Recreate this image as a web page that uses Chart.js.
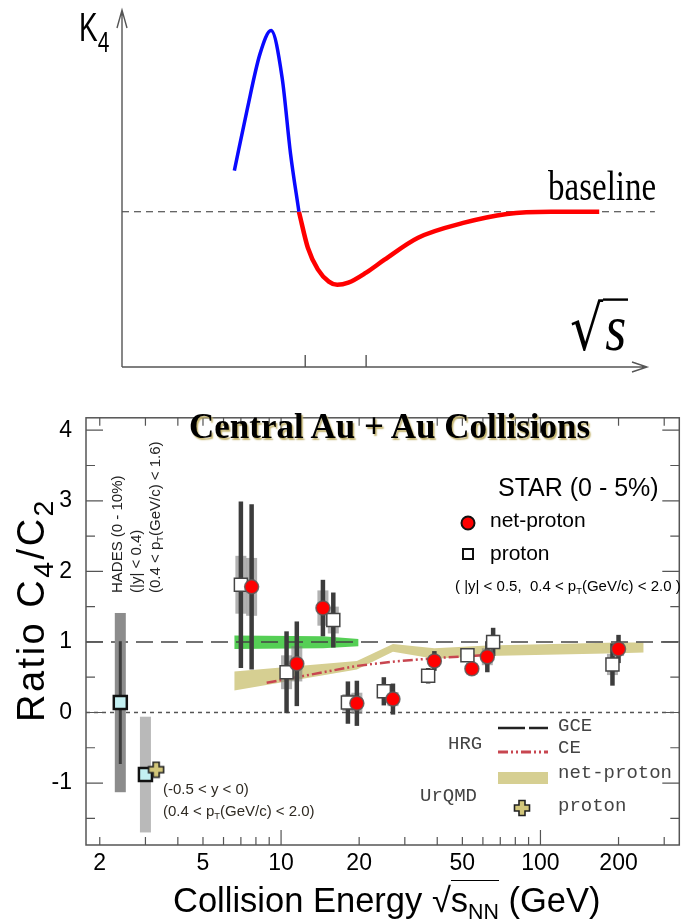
<!DOCTYPE html>
<html>
<head>
<meta charset="utf-8">
<title>K4 sketch and C4/C2 vs collision energy</title>
<script src="https://cdn.jsdelivr.net/npm/chart.js@4.4.1/dist/chart.umd.min.js"></script>
<style>
  html, body { margin: 0; padding: 0; background: #fff; }
  #page { position: relative; width: 691px; height: 924px; overflow: hidden;
          font-family: 'Liberation Sans', Arial, sans-serif; color: #000; }
  #page canvas { position: absolute; left: 0; }
  .t { position: absolute; white-space: nowrap; line-height: 1; }
  .rot { transform-origin: 0 0; transform: rotate(-90deg); }
  .sub { font-size: 0.62em; position: relative; top: 0.32em; }
  .mono { font-family: 'Liberation Mono', 'Courier New', monospace; font-size: 19px; color: #444; }
  .note { font-size: 15px; color: #2f2a22; }
</style>
</head>
<body>
<div id="page">
  <canvas id="sketch" width="691" height="390" style="top:0"></canvas>
  <canvas id="ratio" width="691" height="534" style="top:390px"></canvas>

  <!-- top sketch labels -->
  <div class="t" style="left:79px;top:18px;font-size:28px;transform:scaleY(1.42);transform-origin:0 24px">K<span style="font-size:21px;position:relative;top:8px;">4</span></div>
  <div class="t" style="left:548px;top:171px;font:33px 'Liberation Serif',serif;transform:scaleY(1.3);transform-origin:0 28px">baseline</div>
  <div class="t" style="left:570px;top:300px;font:52px 'DejaVu Serif',serif;transform:scaleY(1.2);transform-origin:0 44px">√<span style="font:italic 46px 'Liberation Serif',serif;border-top:2px solid #000;padding:0 2px;"><span style="font-size:54px">s</span></span></div>

  <!-- bottom panel labels -->
  <div class="t" style="left:189px;top:407px;font:bold 35px 'Liberation Serif',serif;text-shadow:1.5px 1.5px 1.5px #c2b26c;">Central Au + Au Collisions</div>
  <div class="t rot" style="left:107px;top:593px;font-size:15px;line-height:19px;color:#222;">HADES (0 - 10%)<br>(|y| &lt; 0.4)<br>(0.4 &lt; p<span class="sub">T</span>(GeV/c) &lt; 1.6)</div>
  <div class="t" style="left:498px;top:475px;font-size:25px;">STAR (0 - 5%)</div>
  <div class="t" style="left:490px;top:509px;font-size:21px;">net-proton</div>
  <div class="t" style="left:490px;top:542px;font-size:21px;">proton</div>
  <div class="t" style="left:455px;top:578px;font-size:15px;">( |y| &lt; 0.5,&nbsp; 0.4 &lt; p<span class="sub">T</span>(GeV/c) &lt; 2.0 )</div>
  <div class="t note" style="left:163px;top:781px;">(-0.5 &lt; y &lt; 0)</div>
  <div class="t note" style="left:163px;top:803px;">(0.4 &lt; p<span class="sub">T</span>(GeV/c) &lt; 2.0)</div>

  <div class="t mono" style="left:448px;top:735px;">HRG</div>
  <div class="t mono" style="left:558px;top:717px;">GCE</div>
  <div class="t mono" style="left:558px;top:739px;">CE</div>
  <div class="t mono" style="left:558px;top:764px;">net-proton</div>
  <div class="t mono" style="left:420px;top:787px;">UrQMD</div>
  <div class="t mono" style="left:558px;top:797px;">proton</div>

  <div class="t rot" style="left:12px;top:722px;font-size:38px;letter-spacing:2.5px;">Ratio C<span class="sub" style="font-size:0.75em">4</span>/C<span class="sub" style="font-size:0.75em">2</span></div>
  <div class="t" style="left:173px;top:883px;font-size:34.5px;">Collision Energy <span>√</span><span style="border-top:1.5px solid #000;">s<span class="sub">NN</span></span> (GeV)</div>
</div>

<script>
// ---------- top sketch: K4 vs sqrt(s) (arbitrary units) ----------
const sketchX = [2.14, 2.38, 2.63, 2.84, 3.05, 3.21, 3.37, 3.54, 3.73, 3.94, 4.10, 4.31, 4.65, 5.0, 5.64, 6.50, 7.33, 8.17, 9.09];
const sketchK4 = [1.14, 2.81, 4.39, 5.03, 3.72, 1.61, 0, -1.0, -1.6, -1.94, -2.03, -1.97, -1.69, -1.33, -0.72, -0.31, -0.06, 0, 0];
const crossIdx = 6;           // curve meets the baseline here: blue before, red after
const baselineX = [0, 10.15];
const baselineK4 = [0, 0];
const sketchTicks = [3.49, 4.65];

// ---------- bottom: C4/C2 vs collision energy ----------
const starEnergy = [7.7, 11.5, 14.5, 19.6, 27, 39, 54.4, 62.4, 200];
const netProton = [1.78, 0.69, 1.48, 0.13, 0.19, 0.73, 0.62, 0.79, 0.90];
const netProtonStat = [1.17, 0.60, 0.40, 0.32, 0.22, 0.14, 0.09, 0.22, 0.20];
const netProtonSys = [0.41, 0.25, 0.25, 0.15, 0.10, 0.08, 0.08, 0.12, 0.10];

// protons are drawn slightly shifted in energy for visibility
const protonEnergy = [7.0, 10.5, 15.9, 18.1, 24.9, 36.9, 52.3, 65.7, 189.5];
const proton = [1.81, 0.57, 1.31, 0.14, 0.30, 0.52, 0.81, 1.00, 0.68];
const protonStat = [1.18, 0.58, 0.39, 0.30, 0.20, 0.11, 0.06, 0.20, 0.30];
const protonSys = [0.41, 0.24, 0.19, 0.12, 0.10, 0.06, 0.05, 0.10, 0.15];

const hadesEnergy = [2.4];
const hadesProton = [0.14];
const hadesStat = [0.87];
const hadesSys = [1.27];

const fxtEnergy = [3.0];
const fxtProton = [-0.88];
const fxtSys = [0.82];

const urqmdProtonEnergy = [3.3];
const urqmdProton = [-0.81];

const urqmdBandX = [6.6, 19.6, 27, 39, 62.4, 200, 250];
const urqmdBandHi = [0.58, 0.73, 0.97, 0.91, 0.95, 0.99, 0.99];
const urqmdBandLo = [0.31, 0.61, 0.86, 0.76, 0.80, 0.84, 0.85];

const greenBandX = [6.6, 14.5, 19.9];
const greenBandHi = [1.09, 1.08, 1.04];
const greenBandLo = [0.90, 0.91, 0.94];

const ceX = [8.8, 19.6, 27, 39, 54.4, 62.4];
const ceY = [0.42, 0.66, 0.72, 0.77, 0.80, 0.82];

const gceX = [1.77, 343];
const gceY = [1, 1];
const zeroX = [1.77, 343];
const zeroY = [0, 0];

const xTickLabels = [2, 5, 10, 20, 50, 100, 200];
const xTickMarks = [2, 3, 4, 5, 6, 7, 8, 9, 10, 20, 30, 40, 50, 60, 70, 80, 90, 100, 200, 300];
const yTickLabels = [-1, 0, 1, 2, 3, 4];
const yTickMarks = [-1.5, -1, -0.5, 0, 0.5, 1, 1.5, 2, 2.5, 3, 3.5, 4];

const KHAKI = '#d6cf92';
const pts = (xs, ys) => xs.map((x, i) => ({ x, y: ys[i] }));

// ---------- top chart ----------
const sketchAxes = {
  id: 'sketchAxes',
  afterDraw(chart) {
    const { ctx, scales: { x, y } } = chart;
    const x0 = x.getPixelForValue(0), y0 = y.getPixelForValue(-4.31);
    const xEnd = x.getPixelForValue(10), yEnd = 10;
    ctx.save();
    ctx.strokeStyle = '#555';
    ctx.lineWidth = 1.4;
    ctx.beginPath();
    ctx.moveTo(x0, y0); ctx.lineTo(xEnd, y0);
    ctx.moveTo(xEnd - 15, y0 - 5); ctx.lineTo(xEnd, y0); ctx.lineTo(xEnd - 15, y0 + 5);
    ctx.moveTo(x0, y0); ctx.lineTo(x0, yEnd);
    ctx.moveTo(x0 - 5, yEnd + 18); ctx.lineTo(x0, yEnd); ctx.lineTo(x0 + 5, yEnd + 18);
    sketchTicks.forEach(v => {
      const px = x.getPixelForValue(v);
      ctx.moveTo(px, y0); ctx.lineTo(px, y0 - 12);
    });
    ctx.stroke();
    ctx.restore();
  }
};

new Chart(document.getElementById('sketch'), {
  type: 'line',
  data: {
    datasets: [
      {
        data: pts(sketchX.slice(0, crossIdx + 1), sketchK4.slice(0, crossIdx + 1)),
        borderColor: '#0a0aff', borderWidth: 3.5, pointRadius: 0,
        cubicInterpolationMode: 'monotone', clip: false
      },
      {
        data: pts(sketchX.slice(crossIdx), sketchK4.slice(crossIdx)),
        borderColor: '#ff0000', borderWidth: 4.5, pointRadius: 0,
        cubicInterpolationMode: 'monotone', clip: false
      },
      {
        data: pts(baselineX, baselineK4),
        borderColor: '#333', borderWidth: 1.2, borderDash: [7, 5], pointRadius: 0, clip: false
      }
    ]
  },
  options: {
    responsive: false, animation: false, events: [],
    layout: { padding: { left: 122, right: 28.25, top: 5, bottom: 23 } },
    plugins: { legend: { display: false }, tooltip: { enabled: false } },
    scales: {
      x: { type: 'linear', min: 0, max: 10.3, display: false },
      y: { type: 'linear', min: -4.31, max: 5.74, display: false }
    }
  },
  plugins: [sketchAxes]
});

// ---------- bottom chart ----------
function plusMarker() {
  const c = document.createElement('canvas');
  c.width = c.height = 18;
  const g = c.getContext('2d');
  const m = 9, w = 3, L = 7.5;
  g.beginPath();
  g.moveTo(m - w, m - L); g.lineTo(m + w, m - L); g.lineTo(m + w, m - w); g.lineTo(m + L, m - w);
  g.lineTo(m + L, m + w); g.lineTo(m + w, m + w); g.lineTo(m + w, m + L); g.lineTo(m - w, m + L);
  g.lineTo(m - w, m + w); g.lineTo(m - L, m + w); g.lineTo(m - L, m - w); g.lineTo(m - w, m - w);
  g.closePath();
  g.fillStyle = '#d2c67a';
  g.fill();
  g.lineWidth = 1.6;
  g.strokeStyle = '#222';
  g.stroke();
  return c;
}
const plus = plusMarker();

const errorGroups = [
  { xs: hadesEnergy, ys: hadesProton, sys: hadesSys, stat: hadesStat, sysColor: '#8c8c8c', sysW: 11, statW: 3 },
  { xs: fxtEnergy, ys: fxtProton, sys: fxtSys, stat: null, sysColor: '#b9b9b9', sysW: 11, statW: 3 },
  { xs: protonEnergy, ys: proton, sys: protonSys, stat: protonStat, sysColor: 'rgba(125,125,125,0.6)', sysW: 11, statW: 4.5 },
  { xs: starEnergy, ys: netProton, sys: netProtonSys, stat: netProtonStat, sysColor: 'rgba(125,125,125,0.6)', sysW: 11, statW: 4.5 }
];

const ratioDecor = {
  id: 'ratioDecor',
  beforeDatasetsDraw(chart) { chart.$barsDone = false; },
  beforeDatasetDraw(chart, args) {
    const ds = chart.data.datasets[args.index];
    if (chart.$barsDone || !ds.marker) return;
    chart.$barsDone = true;
    const { ctx, scales: { x, y } } = chart;
    ctx.save();
    errorGroups.forEach(g => {
      g.xs.forEach((xv, i) => {
        const px = x.getPixelForValue(xv);
        if (g.sys) {
          const t = y.getPixelForValue(g.ys[i] + g.sys[i]);
          const b = y.getPixelForValue(g.ys[i] - g.sys[i]);
          ctx.fillStyle = g.sysColor;
          ctx.fillRect(px - g.sysW / 2, t, g.sysW, b - t);
        }
        if (g.stat) {
          ctx.strokeStyle = '#3c3c3c';
          ctx.lineWidth = g.statW;
          ctx.beginPath();
          ctx.moveTo(px, y.getPixelForValue(g.ys[i] + g.stat[i]));
          ctx.lineTo(px, y.getPixelForValue(g.ys[i] - g.stat[i]));
          ctx.stroke();
        }
      });
    });
    ctx.restore();
  },
  afterDraw(chart) {
    const { ctx, chartArea: a, scales: { x, y } } = chart;
    ctx.save();
    // frame and inward ticks
    ctx.strokeStyle = '#555';
    ctx.lineWidth = 1.5;
    ctx.strokeRect(a.left, a.top, a.right - a.left, a.bottom - a.top);
    ctx.lineWidth = 1.2;
    ctx.beginPath();
    xTickMarks.forEach(v => {
      const px = x.getPixelForValue(v);
      const len = (v === 10 || v === 100) ? 15 : 8;
      ctx.moveTo(px, a.bottom); ctx.lineTo(px, a.bottom - len);
      ctx.moveTo(px, a.top); ctx.lineTo(px, a.top + len);
    });
    yTickMarks.forEach(v => {
      const py = y.getPixelForValue(v);
      const len = Number.isInteger(v) ? 17 : 9;
      ctx.moveTo(a.left, py); ctx.lineTo(a.left + len, py);
      ctx.moveTo(a.right, py); ctx.lineTo(a.right - len, py);
    });
    ctx.stroke();

    // legend symbols
    ctx.lineWidth = 2;
    ctx.strokeStyle = '#111';
    ctx.fillStyle = '#ff0000';
    ctx.beginPath(); ctx.arc(468, 133, 6.5, 0, Math.PI * 2); ctx.fill(); ctx.stroke();
    ctx.fillStyle = '#fff';
    ctx.fillRect(463, 159, 10, 10); ctx.strokeRect(463, 159, 10, 10);

    ctx.strokeStyle = '#222';
    ctx.lineWidth = 2.5;
    ctx.setLineDash([27, 4]);
    ctx.beginPath(); ctx.moveTo(498, 338); ctx.lineTo(548, 338); ctx.stroke();
    ctx.strokeStyle = '#c84650';
    ctx.lineWidth = 3;
    ctx.setLineDash([10, 3, 2, 3, 2, 3]);
    ctx.beginPath(); ctx.moveTo(498, 362); ctx.lineTo(548, 362); ctx.stroke();
    ctx.setLineDash([]);
    ctx.fillStyle = KHAKI;
    ctx.fillRect(498, 382, 50, 12);
    ctx.drawImage(plus, 522 - 9, 418 - 9);
    ctx.restore();
  }
};

new Chart(document.getElementById('ratio'), {
  type: 'line',
  data: {
    datasets: [
      { label: 'UrQMD proton', marker: true, order: 0, showLine: false,
        data: pts(urqmdProtonEnergy, urqmdProton), pointStyle: plus, pointRadius: 9 },
      { label: 'net-proton', marker: true, order: 1, showLine: false,
        data: pts(starEnergy, netProton), pointStyle: 'circle', pointRadius: 7,
        pointBackgroundColor: '#ff0000', pointBorderColor: 'rgba(90,90,90,0.85)', pointBorderWidth: 1.5 },
      { label: 'proton', marker: true, order: 2, showLine: false,
        data: pts(protonEnergy, proton), pointStyle: 'rect', pointRadius: 9.2,
        pointBackgroundColor: '#fff', pointBorderColor: '#444', pointBorderWidth: 1.5 },
      { label: 'HADES', marker: true, order: 3, showLine: false,
        data: pts(hadesEnergy, hadesProton), pointStyle: 'rect', pointRadius: 9.2,
        pointBackgroundColor: '#c4f0f2', pointBorderColor: '#111', pointBorderWidth: 2.5 },
      { label: 'STAR 3 GeV', marker: true, order: 3, showLine: false,
        data: pts(fxtEnergy, fxtProton), pointStyle: 'rect', pointRadius: 9.2,
        pointBackgroundColor: '#c4f0f2', pointBorderColor: '#111', pointBorderWidth: 2.5 },
      { label: 'CE', order: 8, data: pts(ceX, ceY), borderColor: '#c84650', borderWidth: 2.5,
        borderDash: [10, 3, 2, 3, 2, 3], pointRadius: 0 },
      { label: 'GCE', order: 9, data: pts(gceX, gceY), borderColor: '#444', borderWidth: 1.5,
        borderDash: [17, 8], pointRadius: 0 },
      { label: 'zero', order: 9, data: pts(zeroX, zeroY), borderColor: '#555', borderWidth: 1.5,
        borderDash: [4, 4], pointRadius: 0 },
      { label: 'UrQMD net-proton hi', order: 10, data: pts(urqmdBandX, urqmdBandHi),
        borderWidth: 0, pointRadius: 0, fill: '+1', backgroundColor: KHAKI },
      { label: 'UrQMD net-proton lo', order: 10, data: pts(urqmdBandX, urqmdBandLo),
        borderWidth: 0, pointRadius: 0, fill: false },
      { label: 'green hi', order: 10, data: pts(greenBandX, greenBandHi),
        borderWidth: 0, pointRadius: 0, fill: '+1', backgroundColor: '#55cf55' },
      { label: 'green lo', order: 10, data: pts(greenBandX, greenBandLo),
        borderWidth: 0, pointRadius: 0, fill: false }
    ]
  },
  options: {
    responsive: false, animation: false, events: [],
    layout: { padding: { top: 7, right: 3, left: 0, bottom: 0 } },
    plugins: { legend: { display: false }, tooltip: { enabled: false } },
    scales: {
      x: {
        type: 'logarithmic', min: 1.77, max: 343,
        afterBuildTicks: s => { s.ticks = xTickLabels.map(v => ({ value: v })); },
        afterFit: s => { s.height = 79; },
        grid: { display: false, drawTicks: false },
        border: { display: false },
        ticks: { autoSkip: false, maxRotation: 0, padding: 5, color: '#000',
                 font: { size: 23, family: "'Liberation Sans', Arial, sans-serif" },
                 callback: v => String(v) }
      },
      y: {
        type: 'linear', min: -1.878, max: 4.176,
        afterBuildTicks: s => { s.ticks = yTickLabels.map(v => ({ value: v })); },
        afterFit: s => { s.width = 86; },
        grid: { display: false, drawTicks: false },
        border: { display: false },
        ticks: { padding: 14, color: '#000',
                 font: { size: 23, family: "'Liberation Sans', Arial, sans-serif" } }
      }
    }
  },
  plugins: [ratioDecor]
});
</script>
</body>
</html>
